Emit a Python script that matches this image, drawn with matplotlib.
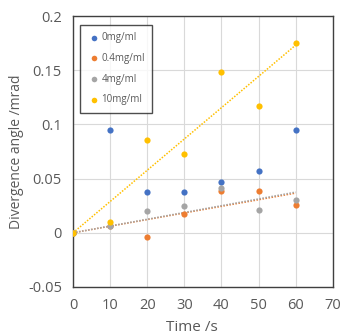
import matplotlib.pyplot as plt
import numpy as np

# time points and measured divergence angles
time_s = np.array([0, 10, 20, 30, 40, 50, 60])
conc_0 = [0, 0.095, 0.038, 0.038, 0.047, 0.057, 0.095]
conc_04 = [0, 0.006, -0.004, 0.017, 0.039, 0.039, 0.026]
conc_4 = [0, 0.006, 0.020, 0.025, 0.041, 0.021, 0.030]
conc_10 = [0, 0.0097, 0.086, 0.073, 0.148, 0.117, 0.175]

labels = ["0mg/ml", "0.4mg/ml", "4mg/ml", "10mg/ml"]
colors = ["#4472C4", "#ED7D31", "#A5A5A5", "#FFC000"]
series = [conc_0, conc_04, conc_4, conc_10]
with_trend = [False, True, True, True]

plt.rcParams['font.family'] = ['Open Sans', 'DejaVu Sans']
txt = "#595959"

fig = plt.figure(figsize=(3.4, 3.35), dpi=100)
ax = fig.add_axes([0.2147, 0.1433, 0.7643, 0.8087])

for y, lab, c, tr in zip(series, labels, colors, with_trend):
    y = np.array(y)
    if tr:
        # linear trendline forced through origin
        k = np.sum(time_s * y) / np.sum(time_s ** 2)
        tt = np.array([0, time_s.max()])
        ax.plot(tt, k * tt, linestyle=(0, (1, 1)), color=c, lw=1.1, zorder=2)
for y, lab, c in zip(series, labels, colors):
    ax.scatter(time_s, y, s=20, color=c, label=lab, zorder=3, linewidths=0)

ax.set_xlim(0, 70)
ax.set_ylim(-0.05, 0.2)
ax.set_xticks(range(0, 71, 10))
ax.set_yticks([-0.05, 0, 0.05, 0.1, 0.15, 0.2])
ax.set_yticklabels(["-0.05", "0", "0.05", "0.1", "0.15", "0.2"])
ax.grid(True, color="#d9d9d9", lw=0.8)
ax.set_axisbelow(True)
ax.tick_params(length=0, labelsize=10.5, colors=txt, pad=8)
for s in ax.spines.values():
    s.set_color("#404040")
    s.set_linewidth(1.0)

ax.set_xlabel("Time /s", fontsize=11, color=txt)
ax.xaxis.set_label_coords(0.456, -0.12)
ax.set_ylabel("Divergence angle /mrad", fontsize=10, color=txt, labelpad=3)

leg = ax.legend(loc="upper left", bbox_to_anchor=(0.01, 0.985), fontsize=7,
                frameon=True, fancybox=False, handletextpad=0.1,
                handlelength=1.3, borderpad=0.75, labelspacing=1.0,
                markerscale=0.9)
leg.get_frame().set_edgecolor("#202020")
leg.get_frame().set_linewidth(1.0)
for t in leg.get_texts():
    t.set_color(txt)

fig.savefig("out.png", dpi=100)
